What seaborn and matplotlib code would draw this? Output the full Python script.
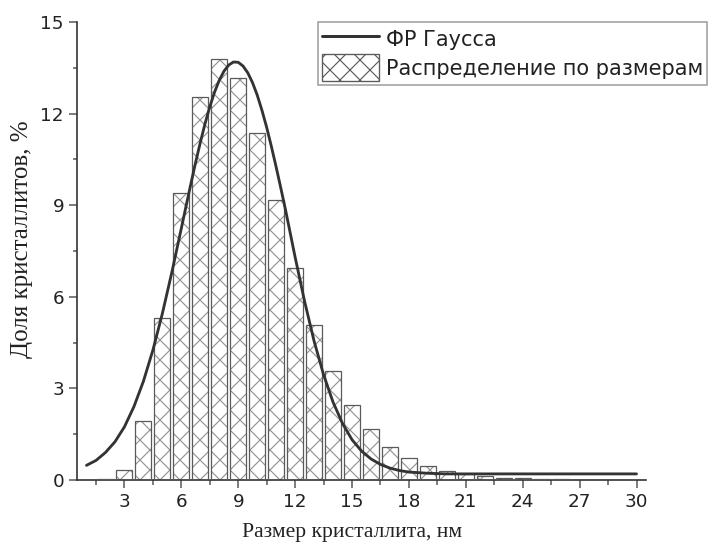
import matplotlib
matplotlib.use("Agg")
import matplotlib.pyplot as plt
from matplotlib.lines import Line2D
from matplotlib.patches import Patch
from matplotlib.ticker import MultipleLocator
import seaborn as sns
import pandas as pd

# ---- data ----
sizes = [2, 3, 4, 5, 6, 7, 8, 9, 10, 11, 12, 13, 14, 15, 16, 17, 18, 19, 20,
         21, 22, 23, 24, 25, 26, 27]
shares = [0.03, 0.33, 1.93, 5.32, 9.41, 12.56, 13.78, 13.18, 11.38, 9.16,
          6.95, 5.07, 3.57, 2.47, 1.66, 1.09, 0.73, 0.47, 0.31, 0.19, 0.12,
          0.08, 0.05, 0.04, 0.03, 0.01]

# Gaussian fit curve
fit_x = [1.0, 1.5, 2.0, 2.5, 3.0, 3.5, 4.0, 4.5, 5.0, 5.5, 6.0, 6.25, 6.5,
         6.75, 7.0, 7.25, 7.5, 7.75, 8.0, 8.25, 8.5, 8.75, 9.0, 9.25, 9.5,
         9.75, 10.0, 10.25, 10.5, 10.75, 11.0, 11.25, 11.5, 12.0, 12.5, 13.0,
         13.5, 14.0, 14.5, 15.0, 15.5, 16.0, 16.5, 17.0, 17.5, 18.0, 19.0,
         20.0, 22.0, 26.0, 30.0]
fit_y = [0.48, 0.64, 0.90, 1.25, 1.74, 2.40, 3.23, 4.25, 5.45, 6.80, 8.24,
         8.97, 9.69, 10.39, 11.05, 11.67, 12.22, 12.70, 13.09, 13.39, 13.59,
         13.69, 13.68, 13.56, 13.34, 13.02, 12.61, 12.11, 11.55, 10.92,
         10.25, 9.55, 8.83, 7.30, 5.85, 4.55, 3.45, 2.55, 1.85, 1.32, 0.95,
         0.69, 0.51, 0.39, 0.31, 0.26, 0.22, 0.20, 0.20, 0.20, 0.20]

x_ticks = [3, 6, 9, 12, 15, 18, 21, 24, 27, 30]
y_ticks = [0, 3, 6, 9, 12, 15]

label_line = "ФР Гаусса"
label_bars = "Распределение по размерам"
xlabel = "Размер кристаллита, нм"
ylabel = "Доля кристаллитов, %"

bars_df = pd.DataFrame({"size": sizes, "share": shares})
fit_df = pd.DataFrame({"x": fit_x, "y": fit_y})

# ---- style ----
sns.set_style("ticks")
plt.rcParams["font.family"] = ["DejaVu Sans"]
plt.rcParams["hatch.linewidth"] = 0.7

HATCH_C = "#949494"
EDGE_C = "#5a5a5a"
LINE_C = "#333333"
AX_C = "#333333"
SERIF = ["Liberation Serif", "DejaVu Serif"]

fig = plt.figure(figsize=(708 / 120, 551 / 120), dpi=120)
ax = fig.add_axes([77 / 708, 1 - 480 / 551, (646 - 77) / 708, (480 - 22) / 551])

# hatched bars
sns.barplot(data=bars_df, x="size", y="share", native_scale=True, width=0.84,
            color="white", edgecolor=HATCH_C, linewidth=0, hatch="xx",
            errorbar=None, ax=ax, zorder=2)
# bar outlines
sns.barplot(data=bars_df, x="size", y="share", native_scale=True, width=0.84,
            fill=False, color=EDGE_C, edgecolor=EDGE_C, linewidth=0.75,
            errorbar=None, ax=ax, zorder=3)

# gaussian fit line
sns.lineplot(data=fit_df, x="x", y="y", sort=False, color=LINE_C,
             linewidth=1.7, ax=ax, zorder=4)

ax.set_xlim(0.5, 30.5)
ax.set_ylim(0, 15)
ax.set_xticks(x_ticks)
ax.set_xticklabels([str(t) for t in x_ticks])
ax.set_yticks(y_ticks)
ax.set_yticklabels([str(t) for t in y_ticks])
ax.xaxis.set_minor_locator(MultipleLocator(1.5))
ax.yaxis.set_minor_locator(MultipleLocator(1.5))

for side in ["top", "right"]:
    ax.spines[side].set_visible(False)
for side in ["left", "bottom"]:
    ax.spines[side].set_color(AX_C)
    ax.spines[side].set_linewidth(1.0)

ax.tick_params(axis="both", which="major", direction="out", length=4.8,
               width=0.9, color="#555555", labelsize=11, pad=3,
               labelcolor="#222222")
ax.tick_params(axis="both", which="minor", direction="out", length=2.7,
               width=0.9, color="#555555")

ax.set_xlabel(xlabel, family=SERIF, fontsize=13, color="#222222")
ax.set_ylabel(ylabel, family=SERIF, fontsize=15, color="#222222")
ax.xaxis.set_label_coords(0.483, -0.094)
ax.yaxis.set_label_coords(-0.078, 0.525)

handles = [
    Line2D([0], [0], color=LINE_C, linewidth=1.8),
    Patch(facecolor="white", edgecolor=EDGE_C, hatch="xx", linewidth=0.8),
]
leg = fig.legend(handles, [label_line, label_bars], loc="upper right",
                 bbox_to_anchor=(707 / 708, 1 - 22 / 551),
                 bbox_transform=fig.transFigure, borderaxespad=0,
                 fontsize=12.5, frameon=True, fancybox=False, framealpha=1,
                 edgecolor="#999999", handlelength=2.75, handleheight=1.62,
                 handletextpad=0.34, labelspacing=0.08, borderpad=0.17)
leg.get_frame().set_linewidth(0.9)
for t in leg.get_texts():
    t.set_color("#222222")

fig.savefig("out.png", dpi=120)
